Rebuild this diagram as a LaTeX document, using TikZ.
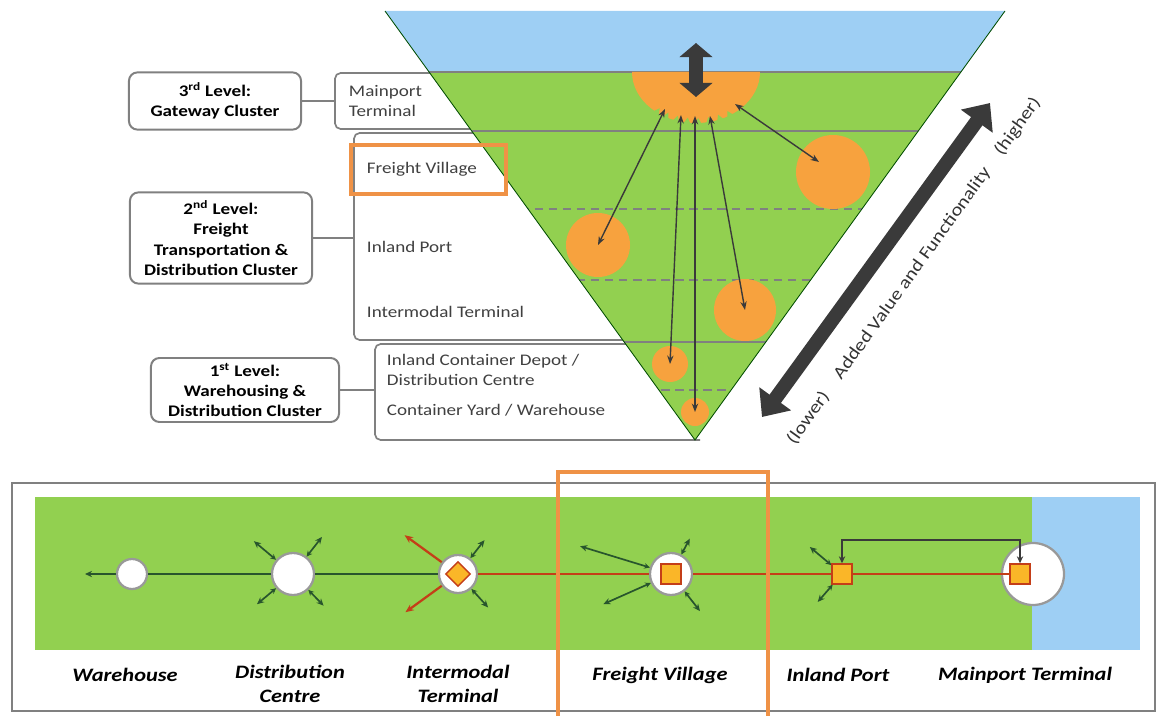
\documentclass[tikz,border=0pt]{standalone}
\usepackage{fontspec}
\setmainfont{Carlito}[FakeStretch=1.18]
\usetikzlibrary{arrows.meta, shapes.geometric, calc}
\definecolor{skyblue}{RGB}{158,207,244}
\definecolor{grassgreen}{RGB}{146,208,80}
\definecolor{hubfill}{RGB}{247,162,62}
\definecolor{darkarrow}{RGB}{58,58,58}
\definecolor{framegray}{RGB}{128,128,128}
\definecolor{linkred}{RGB}{196,62,24}
\definecolor{linkgreen}{RGB}{40,85,45}
\definecolor{focusorange}{RGB}{239,146,70}
\definecolor{boxyellow}{RGB}{250,182,40}

\tikzset{
  levelbox/.style={draw=framegray, line width=1.4pt, rounded corners=6pt, fill=white,
    align=center, font=\fontsize{11.5}{14.5}\selectfont\bfseries},
  bracket/.style={draw=framegray, line width=1.2pt, rounded corners=4pt},
  tierlabel/.style={anchor=west, align=left, text=black!75,
    font=\fontsize{11.5}{13.8}\selectfont},
  hub/.style={circle, fill=hubfill, inner sep=0pt},
  link/.style={darkarrow, line width=1pt, {Stealth[length=6pt,width=4.5pt]}-{Stealth[length=6pt,width=4.5pt]}},
  stop/.style={circle, draw=framegray!80, line width=1.6pt, fill=white, inner sep=0pt},
  cargo/.style={rectangle, draw=linkred, line width=1pt, fill=boxyellow, minimum size=0.5cm, inner sep=0pt},
  spoke/.style={linkgreen, line width=1.2pt, {Stealth[length=4pt,width=4pt]}-{Stealth[length=5pt,width=4.5pt]}},
  redspoke/.style={linkred, line width=1.6pt, -{Stealth[length=6pt,width=5pt]}},
  modelabel/.style={align=center, font=\fontsize{13.5}{16.5}\selectfont\bfseries\itshape}
}

\begin{document}
\begin{tikzpicture}[x=0.025cm, y=-0.025cm]
    \useasboundingbox (0,0) rectangle (1160,716);

    % Brackets of the three levels
    \draw[bracket] (700,73) -- (335,73) -- (335,129) -- (700,129);
    \draw[bracket] (700,133) -- (354,133) -- (354,340) -- (700,340);
    \draw[bracket] (700,344) -- (375,344) -- (375,440) -- (700,440);

    % Triangle
    \coordinate (tl) at (385,11);
    \coordinate (tr) at (1005,11);
    \coordinate (apex) at (695,440);
    \begin{scope}
        \clip (tl) -- (tr) -- (apex) -- cycle;
        \fill[skyblue] (380,0) rectangle (1010,72);
        \fill[grassgreen] (380,72) rectangle (1010,445);
        \draw[gray, line width=1.2pt] (380,72) -- (1010,72) (380,131) -- (1010,131)
            (380,342) -- (1010,342);
        \draw[gray, line width=1pt, dash pattern=on 6pt off 4pt] (380,209) -- (1010,209)
            (380,280) -- (1010,280) (380,390) -- (1010,390);
    \end{scope}
    \draw[green!30!black, line width=0.6pt] (tl) -- (apex) -- (tr);

    % Mainport half disc
    \fill[hubfill] (632,72) arc[start angle=180, end angle=0, x radius=64, y radius=51] -- cycle;
    \foreach \a in {58,68,...,128}
        \fill[grassgreen] ({696+65*cos(\a-3)},{72+52*sin(\a-3)}) -- ({696+65*cos(\a+3)},{72+52*sin(\a+3)})
            -- ({696+59*cos(\a)},{72+46*sin(\a)}) -- cycle;
    \coordinate (sea) at (696,43);
    \coordinate (port) at (696,97);
    \draw[darkarrow, line width=10pt, {Triangle[width=23pt,length=10pt]}-{Triangle[width=23pt,length=10pt]}] (sea) -- (port);

    % Nodes of the lower levels
    \node[hub, minimum size=1.85cm] (fv) at (833,172) {};
    \node[hub, minimum size=1.6cm] (ip) at (598,245) {};
    \node[hub, minimum size=1.55cm] (it) at (745,310) {};
    \node[hub, minimum size=0.9cm] (icd) at (670,364) {};
    \node[hub, minimum size=0.7cm] (cy) at (695,412) {};

    \coordinate (a1) at (665,109);
    \coordinate (a2) at (681,115);
    \coordinate (a3) at (695,116);
    \coordinate (a4) at (710,116);
    \coordinate (a5) at (735,104);
    \draw[link] (a1) -- (ip.center);
    \draw[link] (a2) -- (icd.center);
    \draw[link] (a3) -- (cy.center);
    \draw[link] (a4) -- (it.center);
    \draw[link] (a5) -- ($(fv.center)+(-14,-10)$);

    % Value arrow
    \coordinate (lo) at (762,417);
    \coordinate (hi) at (990,103);
    \draw[darkarrow, line width=10pt, {Triangle[width=27pt,length=16pt]}-{Triangle[width=27pt,length=16pt]}]
        (lo) -- (hi);
    \node[rotate=54.3, text=black!80, font=\fontsize{12.5}{15}\selectfont] (value) at (914,271)
        {(lower)\hspace{1.1em}Added Value and Functionality\hspace{1.1em}(higher)};

    % Level boxes
    \node[levelbox, minimum width=4.3cm, minimum height=1.43cm] (lvl3) at (215,101)
        {3\textsuperscript{rd} Level:\\Gateway Cluster};
    \node[levelbox, minimum width=4.55cm, minimum height=2.28cm] (lvl2) at (221,238)
        {2\textsuperscript{nd} Level:\\Freight\\Transportation \&\\Distribution Cluster};
    \node[levelbox, minimum width=4.7cm, minimum height=1.6cm] (lvl1) at (245,390)
        {1\textsuperscript{st} Level:\\Warehousing \&\\Distribution Cluster};
    \coordinate (b3) at (335,101);
    \coordinate (b2) at (354,238);
    \coordinate (b1) at (375,390);
    \draw[bracket] (lvl3.east) -- (b3);
    \draw[bracket] (lvl2.east) -- (b2);
    \draw[bracket] (lvl1.east) -- (b1);

    % Tier labels
    \node[tierlabel] (mpt) at (344,101) {Mainport\\Terminal};
    \node[tierlabel] (fvt) at (362,169) {Freight Village};
    \node[tierlabel] (ipt) at (362,247) {Inland Port};
    \node[tierlabel] (imt) at (362,312) {Intermodal Terminal};
    \node[tierlabel] (icdt) at (382,370) {Inland Container Depot /\\Distribution Centre};
    \node[tierlabel] (cyt) at (382,410) {Container Yard / Warehouse};
    \draw[focusorange, line width=3pt] (351,145) rectangle (506,194);

    % Bottom panel
    \draw[framegray, line width=1.5pt] (12,483) rectangle (1155,711);
    \fill[grassgreen] (35,497) rectangle (1032,650);
    \fill[skyblue] (1032,497) rectangle (1140,650);

    \node[stop, minimum size=0.75cm] (wh) at (132,574) {};
    \node[stop, minimum size=1.05cm] (dc) at (293,574) {};
    \node[stop, minimum size=0.95cm] (imb) at (458,574) {};
    \node[diamond, draw=linkred, line width=1pt, fill=boxyellow, minimum size=0.62cm, inner sep=0pt] (imd) at (imb) {};
    \node[stop, minimum size=1.05cm] (fvb) at (671,574) {};
    \node[cargo] (fvsq) at (fvb) {};
    \node[cargo] (ipsq) at (842,574) {};
    \node[stop, minimum size=1.55cm] (mpb) at (1033,574) {};
    \node[cargo] (mpsq) at (1020,574) {};

    \coordinate (whend) at (85,574);
    \draw[linkgreen, line width=1.4pt, -{Stealth[length=5pt,width=4.5pt]}] (wh) -- (whend);
    \draw[linkgreen, line width=1.4pt] (wh) -- (dc) -- (imb);
    \draw[linkred, line width=2pt] (imb) -- (fvb) -- (ipsq) -- (mpsq);

    % Spokes
    \foreach \a/\r in {46/44, 140/47, 220/51, 308/47} {
        \path (dc.center) ++(\a:\r) coordinate (dc-\a);
        \draw[spoke] (dc) -- (dc-\a);
    }
    \foreach \a/\r in {48/45, 308/43} {
        \path (imb.center) ++(\a:\r) coordinate (im-\a);
        \draw[spoke] (imb) -- (im-\a);
    }
    \foreach \a/\r in {144/65, 216/66} {
        \path (imb.center) ++(\a:\r) coordinate (im-\a);
        \draw[redspoke] (imb) -- (im-\a);
    }
    \foreach \a/\r in {52/47, 156/74, 197/95, 298/40} {
        \path (fvb.center) ++(\a:\r) coordinate (fv-\a);
        \draw[spoke] (fvb) -- (fv-\a);
    }
    \foreach \a/\r in {131/37, 220/42} {
        \path (ipsq.center) ++(\a:\r) coordinate (ip-\a);
        \draw[spoke] (ipsq) -- (ip-\a);
    }
    \coordinate (linkup) at (0,540);
    \draw[darkarrow, line width=1.2pt, {Stealth[length=5pt,width=4.5pt]}-{Stealth[length=5pt,width=4.5pt]}]
        (ipsq.north) -- (ipsq.north |- linkup) -| (mpsq.north);

    % Labels of the bottom panel
    \node[modelabel] (whlab) at (125,675) {Warehouse};
    \node[modelabel] (dclab) at (290,684) {Distribution\\Centre};
    \node[modelabel] (imlab) at (458,684) {Intermodal\\Terminal};
    \node[modelabel] (fvlab) at (660,675) {Freight Village};
    \node[modelabel] (iplab) at (838,675) {Inland Port};
    \node[modelabel] (mplab) at (1025,675) {Mainport Terminal};

    \draw[focusorange, line width=3pt] (558,716) -- (558,472) -- (768,472) -- (768,716);
\end{tikzpicture}
\end{document}
